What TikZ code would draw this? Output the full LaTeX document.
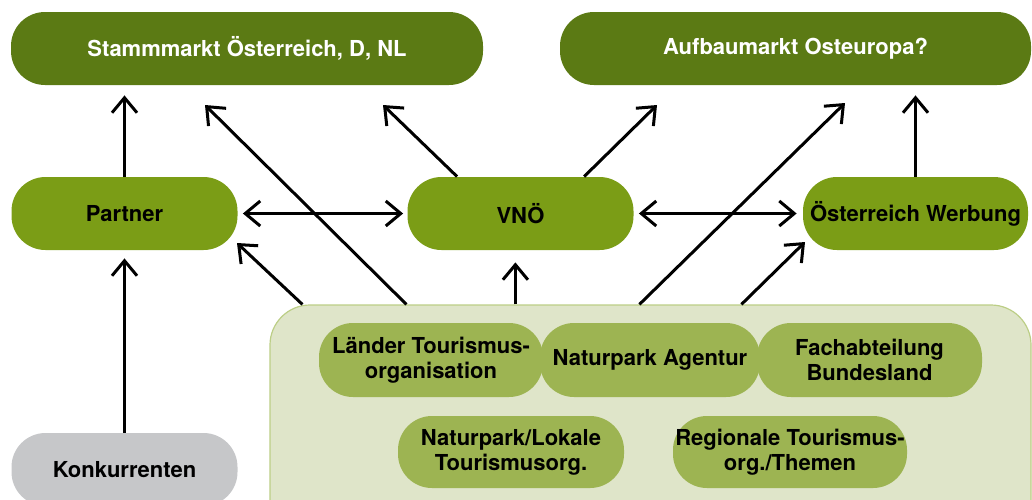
\documentclass[tikz,border=0pt]{standalone}
\usepackage{fontspec}
\setmainfont{TeX Gyre Heros}
\usetikzlibrary{arrows.meta,calc}

\definecolor{dunkelgruen}{HTML}{5B7A14}
\definecolor{mittelgruen}{HTML}{7B9D16}
\definecolor{blassgruen}{HTML}{9DB452}
\definecolor{hellgruen}{HTML}{DFE5C9}
\definecolor{rahmengruen}{HTML}{BCCE86}
\definecolor{grau}{HTML}{C6C7C9}

\begin{document}
\begin{tikzpicture}[x=0.5pt,y=-0.5pt,
        markt/.style={rectangle, rounded corners=17pt, fill=dunkelgruen, text=white, minimum height=36.5pt, align=center},
        akteur/.style={rectangle, rounded corners=17pt, fill=mittelgruen, minimum width=113pt, minimum height=36.5pt, align=center},
        mitglied/.style={rectangle, rounded corners=17pt, fill=blassgruen, minimum height=37pt, inner sep=1pt, align=center},
        pfeil/.style={-{Straight Barb[length=7.5pt,width=12.5pt]}, line width=1.5pt},
        doppelpfeil/.style={{Straight Barb[length=7.5pt,width=12.5pt]}-{Straight Barb[length=7.5pt,width=12.5pt]}, line width=1.5pt},
        every node/.append style={font=\fontsize{11}{12.5}\selectfont\bfseries},
    ]
        \clip (0,0) rectangle (1032,499);
        \useasboundingbox (0,0) rectangle (1032,499);

        %Nodes
        \node[markt, minimum width=236pt] (stamm) at (247,48.5) {Stammmarkt Österreich, D, NL};
        \node[markt, minimum width=235.5pt] (aufbau) at (795.5,48.5) {Aufbaumarkt Osteuropa?};

        \node[akteur] (partner) at (124.5,213.5) {Partner};
        \node[akteur] (vnoe) at (520.5,213.5) {VNÖ};
        \node[akteur, minimum width=112.5pt] (oew) at (915.5,213.5) {Österreich Werbung};

        \node[akteur, fill=grau] (konk) at (124.5,469.5) {Konkurrenten};

        \node[rectangle, rounded corners=20pt, draw=rahmengruen, fill=hellgruen, line width=0.6pt,
              minimum width=380.5pt, minimum height=120pt] (rahmen) at (650.5,425) {};

        \node[mitglied, minimum width=112pt] (laender) at (431,360) {Länder Tourismus-\\organisation};
        \node[mitglied, minimum width=110pt] (agentur) at (650,360) {Naturpark Agentur};
        \node[mitglied, minimum width=112.5pt] (fach) at (869.5,360) {Fachabteilung\\Bundesland};
        \node[mitglied, minimum width=113pt, minimum height=36pt] (lokal) at (511,452) {Naturpark/Lokale\\Tourismusorg.};
        \node[mitglied, minimum width=117pt, minimum height=36pt] (regional) at (790,452) {Regionale Tourismus-\\org./Themen};

        % start points on the frame
        \coordinate (r1) at ($(rahmen.north west)+(33,0)$);
        \coordinate (r2) at ($(rahmen.north west)+(137,0)$);
        \coordinate (r3) at ($(rahmen.north west)+(246,0)$);
        \coordinate (r4) at ($(rahmen.north west)+(370,0)$);
        \coordinate (r5) at ($(rahmen.north west)+(472,0)$);
        \coordinate (v1) at ($(vnoe.north west)+(50,0)$);
        \coordinate (v2) at ($(vnoe.north west)+(177,0)$);

        % arrow tips
        \coordinate (s1) at (383,105);
        \coordinate (s2) at (657,105);
        \coordinate (s3) at (237,243);
        \coordinate (s4) at (205,105);
        \coordinate (s5) at (845,103);
        \coordinate (s6) at (805,242);

        %Lines
        \draw[pfeil, shorten >=5pt] (partner.north) -- (partner.north |- stamm.south);
        \draw[pfeil, shorten >=5pt] (oew.north) -- (oew.north |- aufbau.south);
        \draw[pfeil, shorten >=4pt] (konk.north) -- (partner.south);

        \draw[doppelpfeil, shorten <=2.5pt, shorten >=2pt] (partner.east) -- (vnoe.west);
        \draw[doppelpfeil, shorten <=2.5pt, shorten >=3pt] (vnoe.east) -- (oew.west);

        \draw[pfeil] (v1) -- (s1);
        \draw[pfeil] (v2) -- (s2);

        \draw[pfeil] (r1) -- (s3);
        \draw[pfeil] (r2) -- (s4);
        \draw[pfeil, shorten >=6pt] (r3) -- (r3 |- vnoe.south);
        \draw[pfeil] (r4) -- (s5);
        \draw[pfeil] (r5) -- (s6);
    \end{tikzpicture}
\end{document}
